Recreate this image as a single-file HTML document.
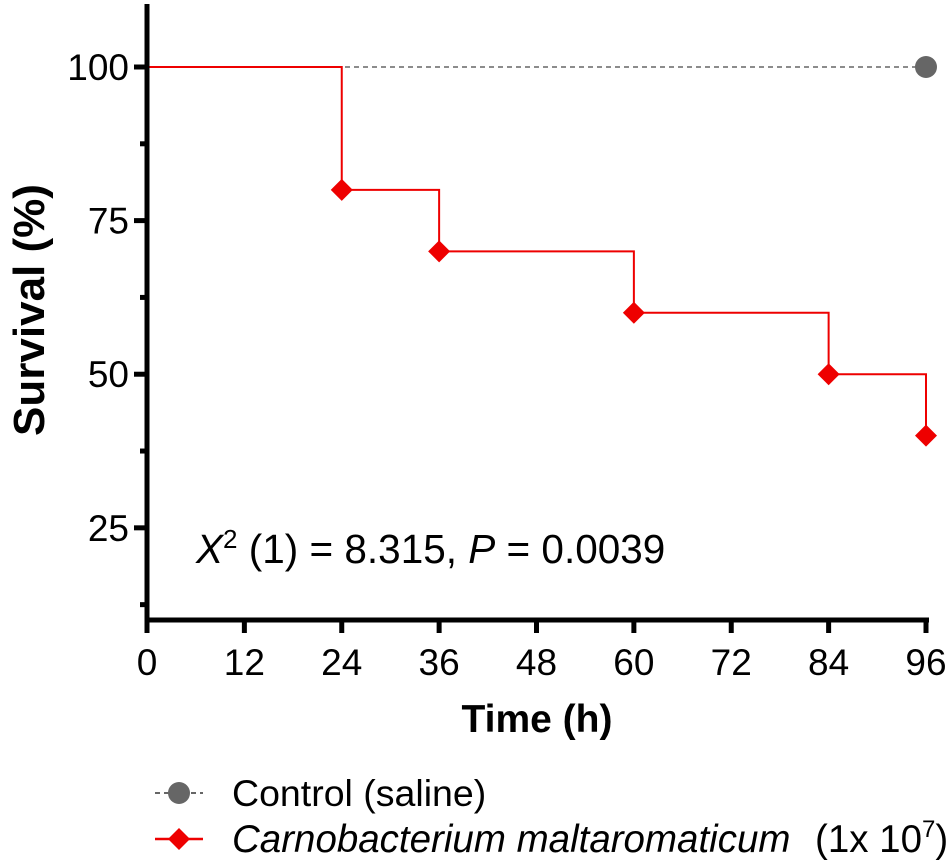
<!DOCTYPE html>
<html><head><meta charset="utf-8"><style>
body{margin:0;background:#fff;}
svg{display:block;font-family:"Liberation Sans",Arial,sans-serif;}
</style></head><body>
<svg id="chart" width="950" height="868" viewBox="0 0 950 868">
<g id="grid"></g>
<g id="series"></g>
<g id="axes"></g>
<text transform="translate(44,310) rotate(-90)" text-anchor="middle" font-size="44" font-weight="bold">Survival (%)</text>
<text x="537" y="732" text-anchor="middle" font-size="39" font-weight="bold">Time (h)</text>
<text x="196" y="563" font-size="40.5"><tspan font-style="italic">X</tspan><tspan dy="-15" font-size="26">2</tspan><tspan dy="15"> (1) = 8.315, </tspan><tspan font-style="italic">P</tspan> = 0.0039</text>
<g>
<g>
<line x1="155" y1="793" x2="203" y2="793" stroke="#666" stroke-width="2" stroke-dasharray="5,4"/>
<circle cx="179" cy="793" r="11" fill="#666"/>
<text x="232" y="806" font-size="37.5">Control (saline)</text>
</g>
<g>
<line x1="155" y1="839" x2="203" y2="839" stroke="#e00" stroke-width="2.5"/>
<polygon points="179,828 190,839 179,850 168,839" fill="#e00"/>
<text x="232" y="852" font-size="38.5"><tspan font-style="italic">Carnobacterium maltaromaticum</tspan><tspan x="815">(1x 10</tspan><tspan dy="-15" font-size="24">7</tspan><tspan dy="15">)</tspan></text>
</g>
</g>
</svg>
<script>
const xTicks=[0,12,24,36,48,60,72,84,96];
const yTicks=[25,50,75,100];
const yMinor=[12.5,37.5,62.5,87.5];
const controlTimes=[0,96];
const controlSurv=[100,100];
const treatTimes=[0,24,36,60,84,96];
const treatSurv=[100,80,70,60,50,40];
const NS="http://www.w3.org/2000/svg";
const X=v=>147+v*(926-147)/96;
const Y=v=>620-(v-10)*(620-67)/90;
function mk(tag,attrs,parent){const e=document.createElementNS(NS,tag);for(const k in attrs)e.setAttribute(k,attrs[k]);parent.appendChild(e);return e;}
const axes=document.getElementById('axes'),series=document.getElementById('series');
let a=mk('line',{x1:147,y1:4,x2:147,y2:623,stroke:'#000','stroke-width':5},axes);


a=mk('line',{x1:145,y1:620,x2:929,y2:620,stroke:'#000','stroke-width':5},axes);


xTicks.forEach(t=>{
 const l=mk('line',{x1:X(t),y1:620,x2:X(t),y2:633,stroke:'#000','stroke-width':5},axes);
 
 
 const tx=mk('text',{x:X(t),y:675,'text-anchor':'middle','font-size':37},axes);tx.textContent=t;
 
 
});
yTicks.forEach(t=>{
 const l=mk('line',{x1:134,y1:Y(t),x2:147,y2:Y(t),stroke:'#000','stroke-width':5},axes);
 
 
 const tx=mk('text',{x:129,y:Y(t)+13,'text-anchor':'end','font-size':37},axes);tx.textContent=t;
 
 
});
yMinor.forEach(t=>{
 const l=mk('line',{x1:140,y1:Y(t),x2:147,y2:Y(t),stroke:'#000','stroke-width':5},axes);
 
 
});
let d='M'+X(controlTimes[0])+','+Y(controlSurv[0]);
for(let i=1;i<controlTimes.length;i++)d+=' H'+X(controlTimes[i])+' V'+Y(controlSurv[i]);
let p=mk('path',{d:d,fill:'none',stroke:'#666','stroke-width':1.5,'stroke-dasharray':'5,4'},series);


d='M'+X(treatTimes[0])+','+Y(treatSurv[0]);
for(let i=1;i<treatTimes.length;i++)d+=' H'+X(treatTimes[i])+' V'+Y(treatSurv[i]);
p=mk('path',{d:d,fill:'none',stroke:'#e00','stroke-width':2},series);


for(let i=1;i<treatTimes.length;i++){
 const cx=X(treatTimes[i]),cy=Y(treatSurv[i]);
 const m=mk('polygon',{points:`${cx},${cy-11} ${cx+11},${cy} ${cx},${cy+11} ${cx-11},${cy}`,fill:'#e00'},series);
 
 
}
const last=controlTimes.length-1;
const c=mk('circle',{cx:X(controlTimes[last]),cy:Y(controlSurv[last]),r:11,fill:'#666'},series);


</script>
</body></html>
